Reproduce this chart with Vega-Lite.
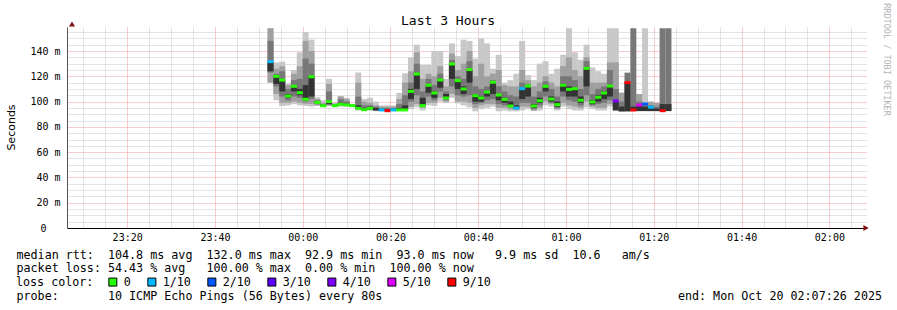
{
  "$schema": "https://vega.github.io/schema/vega-lite/v6.json",
  "width": 800,
  "height": 201,
  "autosize": "none",
  "padding": {"left": 67, "top": 27, "right": 30, "bottom": 82},
  "background": "white",
  "title": {"text": "Last 3 Hours", "anchor": "middle", "frame": "group", "dx": -19, "offset": -25, "font": "DejaVu Sans Mono", "fontSize": 13, "fontWeight": "normal", "color": "black"},
  "config": {"view": {"stroke": null}},
  "data": {"values": [
    {"t":"2025-10-19T23:52:40Z","l1":115,"h1":158,"l2":115,"h2":158,"l3":123,"h3":148,"l4":124,"h4":131,"med":131.6,"loss":"1/10"},
    {"t":"2025-10-19T23:54:00Z","l1":101,"h1":131,"l2":106,"h2":126,"l3":112,"h3":122,"l4":114,"h4":120,"med":120,"loss":"0"},
    {"t":"2025-10-19T23:55:20Z","l1":96.5,"h1":131.6,"l2":99,"h2":128,"l3":104,"h3":124,"l4":108,"h4":117,"med":117,"loss":"0"},
    {"t":"2025-10-19T23:56:40Z","l1":97,"h1":114.5,"l2":99,"h2":113,"l3":101,"h3":110,"l4":103,"h4":106,"med":104.4,"loss":"0"},
    {"t":"2025-10-19T23:58:00Z","l1":98,"h1":125,"l2":100,"h2":122,"l3":104,"h3":117,"l4":108,"h4":113,"med":112.1,"loss":"0"},
    {"t":"2025-10-19T23:59:20Z","l1":97,"h1":139,"l2":99,"h2":128,"l3":103,"h3":118,"l4":105,"h4":110,"med":107,"loss":"0"},
    {"t":"2025-10-20T00:00:40Z","l1":96.5,"h1":155,"l2":98,"h2":148,"l3":100,"h3":134,"l4":101,"h4":113,"med":101.8,"loss":"0"},
    {"t":"2025-10-20T00:02:00Z","l1":96,"h1":149,"l2":98,"h2":140,"l3":102,"h3":130,"l4":104,"h4":120,"med":119.7,"loss":"0"},
    {"t":"2025-10-20T00:03:20Z","l1":96.5,"h1":103.4,"l2":97,"h2":102,"l3":98,"h3":101,"l4":99,"h4":100,"med":99.4,"loss":"0"},
    {"t":"2025-10-20T00:04:40Z","l1":96,"h1":101,"l2":96,"h2":99,"l3":96.3,"h3":98,"l4":96.5,"h4":97.5,"med":96.8,"loss":"0"},
    {"t":"2025-10-20T00:06:00Z","l1":96.5,"h1":118,"l2":97,"h2":114,"l3":97.5,"h3":108,"l4":98,"h4":101,"med":100,"loss":"0"},
    {"t":"2025-10-20T00:07:20Z","l1":96,"h1":99,"l2":96,"h2":98.5,"l3":96.3,"h3":98,"l4":96.5,"h4":97.5,"med":96.8,"loss":"0"},
    {"t":"2025-10-20T00:08:40Z","l1":96,"h1":104.4,"l2":96.5,"h2":104,"l3":97,"h3":102,"l4":97.3,"h4":99,"med":97.8,"loss":"0"},
    {"t":"2025-10-20T00:10:00Z","l1":96,"h1":103,"l2":96.5,"h2":102,"l3":97,"h3":100,"l4":97,"h4":98.5,"med":97.4,"loss":"0"},
    {"t":"2025-10-20T00:11:20Z","l1":96,"h1":98,"l2":96,"h2":97.8,"l3":96.3,"h3":97.5,"l4":96.5,"h4":97.2,"med":96.8,"loss":"0"},
    {"t":"2025-10-20T00:12:40Z","l1":93,"h1":123,"l2":93.5,"h2":115,"l3":94,"h3":104,"l4":94,"h4":97,"med":94.7,"loss":"0"},
    {"t":"2025-10-20T00:14:00Z","l1":93,"h1":102,"l2":93.2,"h2":100,"l3":93.4,"h3":97,"l4":93.5,"h4":95,"med":93.6,"loss":"0"},
    {"t":"2025-10-20T00:15:20Z","l1":93,"h1":103,"l2":93.2,"h2":99,"l3":93.5,"h3":97,"l4":94,"h4":96,"med":94.7,"loss":"0"},
    {"t":"2025-10-20T00:16:40Z","l1":92.5,"h1":100,"l2":92.8,"h2":97,"l3":93,"h3":96,"l4":93,"h4":95,"med":null,"loss":null},
    {"t":"2025-10-20T00:18:00Z","l1":92.5,"h1":97,"l2":92.7,"h2":96,"l3":92.8,"h3":95,"l4":93,"h4":94,"med":93.4,"loss":"1/10"},
    {"t":"2025-10-20T00:19:20Z","l1":92.5,"h1":97,"l2":92.7,"h2":96,"l3":92.8,"h3":95,"l4":92.8,"h4":94,"med":92.8,"loss":"9/10"},
    {"t":"2025-10-20T00:20:40Z","l1":92.5,"h1":97,"l2":92.7,"h2":96,"l3":92.8,"h3":95,"l4":93,"h4":94,"med":93.4,"loss":"1/10"},
    {"t":"2025-10-20T00:22:00Z","l1":92.5,"h1":107,"l2":92.8,"h2":102,"l3":93,"h3":98,"l4":93,"h4":95,"med":93.4,"loss":"0"},
    {"t":"2025-10-20T00:23:20Z","l1":92.5,"h1":122.4,"l2":93,"h2":115,"l3":93.3,"h3":105,"l4":93.5,"h4":97,"med":93.4,"loss":"0"},
    {"t":"2025-10-20T00:24:40Z","l1":94,"h1":135,"l2":96,"h2":124,"l3":100,"h3":115,"l4":102,"h4":110,"med":108.1,"loss":"0"},
    {"t":"2025-10-20T00:26:00Z","l1":95.5,"h1":145,"l2":98,"h2":139,"l3":105,"h3":130,"l4":110,"h4":122,"med":121.8,"loss":"0"},
    {"t":"2025-10-20T00:27:20Z","l1":93,"h1":129,"l2":95,"h2":118,"l3":96,"h3":108,"l4":97,"h4":103,"med":96.8,"loss":"0"},
    {"t":"2025-10-20T00:28:40Z","l1":97,"h1":129,"l2":99,"h2":122,"l3":104,"h3":118,"l4":107,"h4":113,"med":112.9,"loss":"0"},
    {"t":"2025-10-20T00:30:00Z","l1":96.5,"h1":140,"l2":99,"h2":120,"l3":101,"h3":113,"l4":103,"h4":108,"med":106.8,"loss":"0"},
    {"t":"2025-10-20T00:31:20Z","l1":100,"h1":140,"l2":103,"h2":128,"l3":108,"h3":122,"l4":111,"h4":118,"med":117.1,"loss":"0"},
    {"t":"2025-10-20T00:32:40Z","l1":99,"h1":118,"l2":100,"h2":112,"l3":101,"h3":108,"l4":102,"h4":106,"med":102.8,"loss":"0"},
    {"t":"2025-10-20T00:34:00Z","l1":103,"h1":146,"l2":106,"h2":138,"l3":112,"h3":133,"l4":118,"h4":130,"med":129.7,"loss":"0"},
    {"t":"2025-10-20T00:35:20Z","l1":98.6,"h1":136,"l2":100,"h2":125,"l3":105,"h3":120,"l4":110,"h4":117,"med":116.6,"loss":"0"},
    {"t":"2025-10-20T00:36:40Z","l1":97,"h1":149,"l2":100,"h2":130,"l3":104,"h3":118,"l4":106,"h4":112,"med":110,"loss":"0"},
    {"t":"2025-10-20T00:38:00Z","l1":95.5,"h1":148,"l2":99,"h2":140,"l3":105,"h3":132,"l4":115,"h4":125,"med":125.3,"loss":"0"},
    {"t":"2025-10-20T00:39:20Z","l1":92.3,"h1":134,"l2":95,"h2":120,"l3":98,"h3":112,"l4":100,"h4":106,"med":104.7,"loss":"0"},
    {"t":"2025-10-20T00:40:40Z","l1":94,"h1":150,"l2":97,"h2":130,"l3":99,"h3":110,"l4":100,"h4":104,"med":102.8,"loss":"0"},
    {"t":"2025-10-20T00:42:00Z","l1":95,"h1":146,"l2":98,"h2":120,"l3":101,"h3":112,"l4":104,"h4":108,"med":107.5,"loss":"0"},
    {"t":"2025-10-20T00:43:20Z","l1":96,"h1":126,"l2":98,"h2":122,"l3":102,"h3":117,"l4":106,"h4":115,"med":115.3,"loss":"0"},
    {"t":"2025-10-20T00:44:40Z","l1":92.3,"h1":137,"l2":95,"h2":125,"l3":98,"h3":112,"l4":101,"h4":106,"med":105.2,"loss":"0"},
    {"t":"2025-10-20T00:46:00Z","l1":93,"h1":115,"l2":95,"h2":113,"l3":97,"h3":108,"l4":99,"h4":103,"med":101.7,"loss":"0"},
    {"t":"2025-10-20T00:47:20Z","l1":92.3,"h1":117,"l2":94,"h2":112,"l3":96,"h3":105,"l4":97,"h4":100,"med":96.5,"loss":"0"},
    {"t":"2025-10-20T00:48:40Z","l1":92.3,"h1":122,"l2":93.5,"h2":112,"l3":94,"h3":104,"l4":94.5,"h4":97,"med":94.9,"loss":"1/10"},
    {"t":"2025-10-20T00:50:00Z","l1":93,"h1":148,"l2":96,"h2":125,"l3":99,"h3":115,"l4":102,"h4":110,"med":110.2,"loss":"1/10"},
    {"t":"2025-10-20T00:51:20Z","l1":94,"h1":121,"l2":96,"h2":117,"l3":99,"h3":114,"l4":104,"h4":112,"med":112.3,"loss":"0"},
    {"t":"2025-10-20T00:52:40Z","l1":92.5,"h1":117,"l2":93,"h2":112,"l3":94,"h3":104,"l4":95,"h4":98,"med":96.5,"loss":"0"},
    {"t":"2025-10-20T00:54:00Z","l1":93,"h1":130,"l2":95,"h2":115,"l3":97,"h3":108,"l4":99,"h4":103,"med":100.7,"loss":"0"},
    {"t":"2025-10-20T00:55:20Z","l1":97,"h1":132,"l2":100,"h2":120,"l3":104,"h3":116,"l4":108,"h4":113,"med":112.1,"loss":"0"},
    {"t":"2025-10-20T00:56:40Z","l1":96,"h1":122,"l2":98,"h2":115,"l3":99,"h3":110,"l4":100,"h4":104,"med":102,"loss":"0"},
    {"t":"2025-10-20T00:58:00Z","l1":93,"h1":126,"l2":94,"h2":112,"l3":95,"h3":104,"l4":96,"h4":100,"med":97.6,"loss":"0"},
    {"t":"2025-10-20T00:59:20Z","l1":96,"h1":137,"l2":99,"h2":128,"l3":104,"h3":120,"l4":108,"h4":114,"med":112.9,"loss":"0"},
    {"t":"2025-10-20T01:00:40Z","l1":94,"h1":158,"l2":97,"h2":135,"l3":101,"h3":120,"l4":104,"h4":112,"med":109.7,"loss":"0"},
    {"t":"2025-10-20T01:02:00Z","l1":93,"h1":139,"l2":96,"h2":125,"l3":100,"h3":117,"l4":104,"h4":111,"med":110.2,"loss":"0"},
    {"t":"2025-10-20T01:03:20Z","l1":93,"h1":133,"l2":95,"h2":120,"l3":97,"h3":110,"l4":99,"h4":104,"med":101,"loss":"0"},
    {"t":"2025-10-20T01:04:40Z","l1":95.5,"h1":145,"l2":100,"h2":135,"l3":105,"h3":132,"l4":112,"h4":126,"med":126.3,"loss":"0"},
    {"t":"2025-10-20T01:06:00Z","l1":94,"h1":127,"l2":96,"h2":115,"l3":97,"h3":106,"l4":98,"h4":101,"med":99.7,"loss":"0"},
    {"t":"2025-10-20T01:07:20Z","l1":93,"h1":124,"l2":95,"h2":115,"l3":98,"h3":110,"l4":100,"h4":105,"med":103.4,"loss":"0"},
    {"t":"2025-10-20T01:08:40Z","l1":93,"h1":122,"l2":95,"h2":115,"l3":99,"h3":112,"l4":102,"h4":108,"med":106.8,"loss":"0"},
    {"t":"2025-10-20T01:10:00Z","l1":96,"h1":158,"l2":98,"h2":131,"l3":101,"h3":125,"l4":104,"h4":113,"med":112.3,"loss":"0"},
    {"t":"2025-10-20T01:11:20Z","l1":92.5,"h1":158,"l2":94,"h2":131,"l3":96,"h3":110,"l4":93,"h4":100,"med":100.5,"loss":"4/10"},
    {"t":"2025-10-20T01:12:40Z","l1":92.3,"h1":107,"l2":92.3,"h2":107,"l3":92.3,"h3":100,"l4":92.3,"h4":96,"med":null,"loss":null},
    {"t":"2025-10-20T01:14:00Z","l1":null,"h1":null,"l2":null,"h2":null,"l3":92.3,"h3":122.9,"l4":92.3,"h4":115,"med":115,"loss":"9/10"},
    {"t":"2025-10-20T01:15:20Z","l1":null,"h1":null,"l2":null,"h2":null,"l3":92.5,"h3":158,"l4":92.5,"h4":96,"med":93.4,"loss":"9/10"},
    {"t":"2025-10-20T01:16:40Z","l1":null,"h1":null,"l2":92.5,"h2":106,"l3":92.5,"h3":100,"l4":92.5,"h4":97,"med":97.3,"loss":"5/10"},
    {"t":"2025-10-20T01:18:00Z","l1":93,"h1":158,"l2":null,"h2":null,"l3":92.5,"h3":98,"l4":92.5,"h4":96,"med":98.1,"loss":"2/10"},
    {"t":"2025-10-20T01:19:20Z","l1":null,"h1":null,"l2":92.5,"h2":100,"l3":92.5,"h3":97,"l4":92.5,"h4":95,"med":95.6,"loss":"1/10"},
    {"t":"2025-10-20T01:20:40Z","l1":null,"h1":null,"l2":92.5,"h2":99,"l3":92.5,"h3":96,"l4":92.5,"h4":94.5,"med":null,"loss":null},
    {"t":"2025-10-20T01:22:00Z","l1":null,"h1":null,"l2":null,"h2":null,"l3":92.5,"h3":158,"l4":92.5,"h4":98,"med":92.8,"loss":"9/10"},
    {"t":"2025-10-20T01:23:20Z","l1":null,"h1":null,"l2":null,"h2":null,"l3":92.5,"h3":158,"l4":92.5,"h4":98,"med":null,"loss":null}
  ]},
  "encoding": {
    "x": {
      "field": "t", "type": "temporal",
      "scale": {"type": "utc", "nice": false, "domain": [1760915246000, 1760926046000]},
      "axis": {
        "values": [1760915400000,1760915700000,1760916000000,1760916300000,1760916600000,1760916900000,1760917200000,1760917500000,1760917800000,1760918100000,1760918400000,1760918700000,1760919000000,1760919300000,1760919600000,1760919900000,1760920200000,1760920500000,1760920800000,1760921100000,1760921400000,1760921700000,1760922000000,1760922300000,1760922600000,1760922900000,1760923200000,1760923500000,1760923800000,1760924100000,1760924400000,1760924700000,1760925000000,1760925300000,1760925600000,1760925900000],
        "grid": true,
        "gridColor": {"condition": {"test": "datum.value % 1200000 == 0", "value": "#ee9a9a"}, "value": "#c8c8c8"},
        "gridDash": [1, 1],
        "ticks": false,
        "domainColor": "black",
        "labelExpr": "datum.value % 1200000 == 0 ? utcFormat(datum.value, '%H:%M') : ''",
        "labelFont": "DejaVu Sans Mono", "labelFontSize": 10, "labelColor": "black", "labelPadding": 4,
        "labelFlush": false, "labelOverlap": false, "labelBound": false,
        "title": [
          "median\u00a0rtt:\u00a0\u00a0104.8\u00a0ms\u00a0avg\u00a0\u00a0132.0\u00a0ms\u00a0max\u00a0\u00a092.9\u00a0ms\u00a0min\u00a0\u00a093.0\u00a0ms\u00a0now\u00a0\u00a0\u00a09.9\u00a0ms\u00a0sd\u00a0\u00a010.6\u00a0\u00a0\u00a0am/s",
          "packet\u00a0loss:\u00a054.43\u00a0%\u00a0avg\u00a0\u00a0\u00a0100.00\u00a0%\u00a0max\u00a0\u00a00.00\u00a0%\u00a0min\u00a0\u00a0100.00\u00a0%\u00a0now",
          "\u2800",
          "probe:\u00a0\u00a0\u00a0\u00a0\u00a0\u00a0\u00a010\u00a0ICMP\u00a0Echo\u00a0Pings\u00a0(56\u00a0Bytes)\u00a0every\u00a080s\u00a0\u00a0\u00a0\u00a0\u00a0\u00a0\u00a0\u00a0\u00a0\u00a0\u00a0\u00a0\u00a0\u00a0\u00a0\u00a0\u00a0\u00a0\u00a0\u00a0\u00a0\u00a0\u00a0\u00a0\u00a0\u00a0\u00a0\u00a0\u00a0\u00a0\u00a0\u00a0\u00a0\u00a0\u00a0\u00a0\u00a0\u00a0\u00a0\u00a0\u00a0\u00a0end:\u00a0Mon\u00a0Oct\u00a020\u00a002:07:26\u00a02025"
        ],
        "titleFont": "DejaVu Sans Mono", "titleFontSize": 11.7, "titleFontWeight": "normal", "titleColor": "black",
        "titleAlign": "left", "titleAnchor": "start", "titleBaseline": "top",
        "titleX": -51, "titleY": 21, "titleLineHeight": 13.8
      }
    }
  },
  "resolve": {"scale": {"y": "independent"}},
  "layer": [
    {
      "mark": {"type": "bar", "width": 6, "color": "#c8c8c8"},
      "encoding": {
        "y": {"field": "l1", "type": "quantitative", "scale": {"domain": [0, 159], "nice": false, "zero": false},
          "axis": {
            "orient": "left",
            "values": [0,5,10,15,20,25,30,35,40,45,50,55,60,65,70,75,80,85,90,95,100,105,110,115,120,125,130,135,140,145,150,155],
            "grid": true,
            "gridColor": {"condition": {"test": "datum.value % 20 == 0", "value": "#ee9a9a"}, "value": "#c8c8c8"},
            "gridDash": [1, 1],
            "ticks": false,
            "domainColor": "#555555",
            "labelExpr": "datum.value % 20 == 0 ? (datum.value == 0 ? '0\u2800\u2800' : datum.value + '\u00a0m') : ''",
            "labelFont": "DejaVu Sans Mono", "labelFontSize": 10, "labelColor": "black", "labelPadding": 7,
            "labelOverlap": false, "labelBound": false, "labelFlush": false,
            "title": "Seconds", "titleFont": "DejaVu Sans", "titleFontSize": 11, "titleFontWeight": "normal", "titleColor": "black",
            "titleX": -56, "titleY": 100, "titleAngle": 270, "titleAlign": "center", "titleBaseline": "middle"
          }
        },
        "y2": {"field": "h1"}
      }
    },
    {
      "mark": {"type": "bar", "width": 6, "color": "#a0a0a0"},
      "encoding": {
        "y": {"field": "l2", "type": "quantitative", "scale": {"domain": [0, 159], "nice": false, "zero": false}, "axis": null},
        "y2": {"field": "h2"}
      }
    },
    {
      "mark": {"type": "bar", "width": 6, "color": "#777777"},
      "encoding": {
        "y": {"field": "l3", "type": "quantitative", "scale": {"domain": [0, 159], "nice": false, "zero": false}, "axis": null},
        "y2": {"field": "h3"}
      }
    },
    {
      "mark": {"type": "bar", "width": 6, "color": "#333333"},
      "encoding": {
        "y": {"field": "l4", "type": "quantitative", "scale": {"domain": [0, 159], "nice": false, "zero": false}, "axis": null},
        "y2": {"field": "h4"}
      }
    },
    {
      "mark": {"type": "tick", "orient": "horizontal", "thickness": 3, "opacity": 1},
      "encoding": {
        "y": {"field": "med", "type": "quantitative", "scale": {"domain": [0, 159], "nice": false, "zero": false},
          "axis": {
            "orient": "right", "domain": false, "ticks": false, "labels": false, "grid": false,
            "title": "RRDTOOL / TOBI OETIKER", "titleFont": "DejaVu Sans Mono", "titleFontSize": 8.5, "titleFontWeight": "normal",
            "titleColor": "#b4b4b4", "titleAngle": 90, "titleX": 19, "titleY": 32, "titleAlign": "center", "titleBaseline": "middle"
          }
        },
        "size": {"value": 6},
        "color": {
          "field": "loss", "type": "nominal",
          "scale": {"domain": ["0", "1/10", "2/10", "3/10", "4/10", "5/10", "9/10"],
                    "range": ["#26ff00", "#00b8ff", "#0059ff", "#5e00ff", "#7e00ff", "#dd00ff", "#ff0000"]},
          "legend": {
            "orient": "none", "legendX": -51, "legendY": 249, "direction": "horizontal",
            "title": "loss color:", "titleOrient": "left", "titleFont": "DejaVu Sans Mono", "titleFontSize": 11.7,
            "titleFontWeight": "normal", "titleColor": "black", "titlePadding": 13,
            "labelFont": "DejaVu Sans Mono", "labelFontSize": 11.7, "labelColor": "black", "labelOffset": 5,
            "columnPadding": 14, "symbolType": "square", "symbolSize": 64, "symbolStrokeColor": "black",
            "symbolStrokeWidth": 1, "symbolOpacity": 1, "padding": 0
          }
        }
      }
    },
    {
      "data": {"values": [{"t": "2025-10-19T23:07:26Z", "v": 159}]},
      "mark": {"type": "point", "shape": "triangle-up", "filled": true, "color": "#7f1010", "size": 36, "yOffset": -3, "opacity": 1},
      "encoding": {
        "y": {"field": "v", "type": "quantitative", "scale": {"domain": [0, 159], "nice": false, "zero": false}, "axis": null}
      }
    },
    {
      "data": {"values": [{"t": "2025-10-20T02:07:26Z", "v": 0}]},
      "mark": {"type": "point", "shape": "triangle-right", "filled": true, "color": "#7f1010", "size": 36, "xOffset": 4, "opacity": 1},
      "encoding": {
        "y": {"field": "v", "type": "quantitative", "scale": {"domain": [0, 159], "nice": false, "zero": false}, "axis": null}
      }
    }
  ]
}
